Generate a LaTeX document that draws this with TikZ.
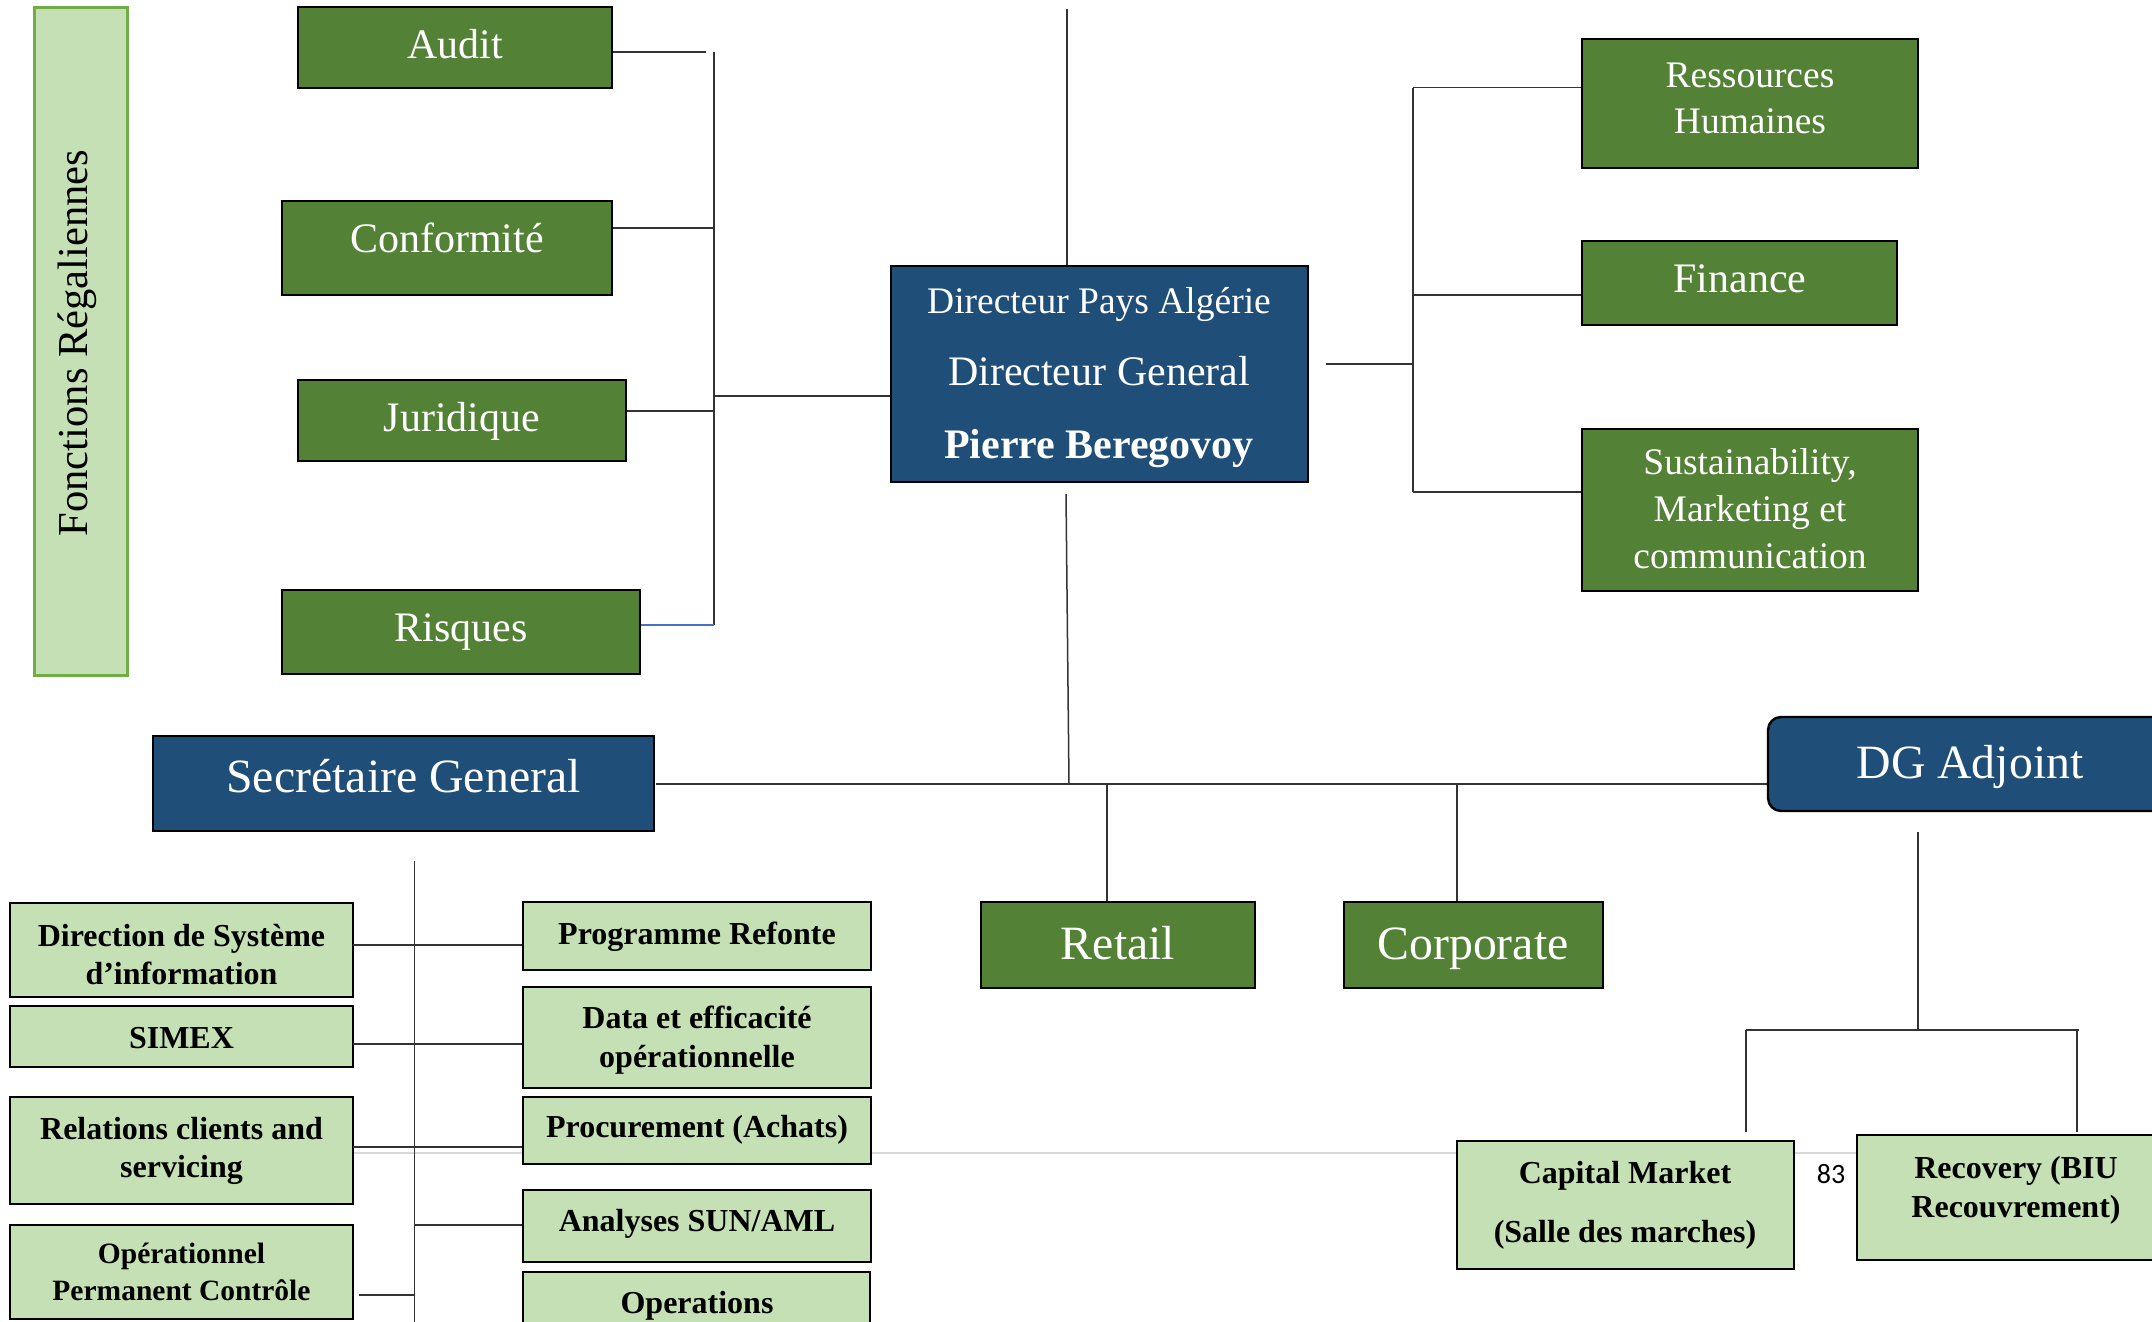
\documentclass[tikz,border=0pt]{standalone}
\usepackage{fontspec}
\setmainfont{Liberation Serif}
\newfontfamily\pagenumfont{Carlito}
\definecolor{orgGreen}{HTML}{538135}
\definecolor{orgBlue}{HTML}{1F4E79}
\definecolor{orgLight}{HTML}{C5E0B4}
\definecolor{orgBorder}{HTML}{70AD47}
\definecolor{linkBlue}{HTML}{4472C4}
\definecolor{pageRule}{HTML}{D9D9D9}
\newcommand\fsMain{\fontsize{42}{48}\selectfont}
\newcommand\fsSmall{\fontsize{37.5}{45}\selectfont}
\newcommand\fsLarge{\fontsize{47.8}{56}\selectfont}
\newcommand\fsBox{\fontsize{32}{38}\selectfont}
\newcommand\fsBoxS{\fontsize{29.5}{35}\selectfont}
\newcommand\fsPage{\fontsize{28}{32}\selectfont}
\begin{document}
\begin{tikzpicture}[x=1pt,y=-1pt,
  box/.style={rectangle, draw=black, line width=2.4pt, inner sep=0pt, anchor=center},
  greenbox/.style={box, fill=orgGreen},
  bluebox/.style={box, fill=orgBlue},
  lightbox/.style={box, fill=orgLight},
  wt/.style={anchor=base, text=white, inner sep=0pt},
  bt/.style={anchor=base, text=black, inner sep=0pt, font=\fsBox\bfseries},
  conn/.style={draw=black!80, line width=1.5pt},
]
\useasboundingbox (0,0) rectangle (2152,1322);

% page break rule behind the lower boxes
\draw[draw=pageRule, line width=2.5pt] (353,1153) -- (1857,1153);

% ---------- boxes ----------
\node[box, draw=orgBorder, line width=3pt, fill=orgLight, minimum width=93pt, minimum height=667pt] (fonctions) at (81,341.5) {};
\node[greenbox, minimum width=314pt, minimum height=81pt] (audit) at (455,47.5) {};
\node[greenbox, minimum width=330pt, minimum height=94pt] (conformite) at (447.25,248) {};
\node[greenbox, minimum width=328pt, minimum height=81pt] (juridique) at (462,420.5) {};
\node[greenbox, minimum width=358pt, minimum height=84pt] (risques) at (461,632) {};

\node[bluebox, minimum width=417pt, minimum height=216pt] (dg) at (1099.5,374) {};

\node[greenbox, minimum width=336pt, minimum height=129pt] (rh) at (1750,103.5) {};
\node[greenbox, minimum width=315pt, minimum height=84pt] (finance) at (1739.5,283) {};
\node[greenbox, minimum width=336pt, minimum height=162pt] (sustain) at (1750,510) {};

\node[bluebox, minimum width=501pt, minimum height=95pt] (sg) at (403.5,783.5) {};
\node[bluebox, rounded corners=13pt, minimum width=404pt, minimum height=94pt] (adjoint) at (1970,764) {};
\node[greenbox, minimum width=274pt, minimum height=86pt] (retail) at (1118,945) {};
\node[greenbox, minimum width=259pt, minimum height=86pt] (corporate) at (1473.5,945) {};

\node[lightbox, minimum width=337pt, minimum height=128pt] (capital) at (1625.5,1205) {};
\node[lightbox, minimum width=318pt, minimum height=125pt] (recovery) at (2016,1197.5) {};

\node[lightbox, minimum width=343pt, minimum height=94pt] (dsi) at (181.5,950) {};
\node[lightbox, minimum width=343pt, minimum height=61pt] (simex) at (181.5,1036.5) {};
\node[lightbox, minimum width=343pt, minimum height=107pt] (relations) at (181.5,1150.5) {};
\node[lightbox, minimum width=343pt, minimum height=94pt] (opc) at (181.5,1272) {};
\node[lightbox, minimum width=348pt, minimum height=68pt] (refonte) at (697,936) {};
\node[lightbox, minimum width=348pt, minimum height=101pt] (data) at (697,1037.5) {};
\node[lightbox, minimum width=348pt, minimum height=67pt] (procurement) at (697,1130.5) {};
\node[lightbox, minimum width=348pt, minimum height=72pt] (analyses) at (697,1226) {};
\node[lightbox, minimum width=347pt, minimum height=73pt] (operations) at (696.5,1308.5) {};

% ---------- labels ----------
\node[anchor=base, inner sep=0pt, rotate=90, font=\fontsize{42.6}{48}\selectfont] (fonctions-t) at (87.6,343) {Fonctions Régaliennes};
\node[wt, font=\fsMain] (audit-t) at (455,58.5) {Audit};
\node[wt, font=\fsMain] (conformite-t) at (447,252) {Conformité};
\node[wt, font=\fsMain] (juridique-t) at (462,431) {Juridique};
\node[wt, font=\fsMain] (risques-t) at (461,641) {Risques};

\node[wt, font=\fsSmall] (dg-t1) at (1099,313.5) {Directeur Pays Algérie};
\node[wt, font=\fsMain] (dg-t2) at (1099,385) {Directeur General};
\node[wt, font=\fsMain\bfseries] (dg-t3) at (1099,458.5) {Pierre Beregovoy};

\node[wt, font=\fsSmall] (rh-t1) at (1750,87) {Ressources};
\node[wt, font=\fsSmall] (rh-t2) at (1750,133.5) {Humaines};
\node[wt, font=\fsMain] (finance-t) at (1740,292) {Finance};
\node[wt, font=\fsSmall] (sustain-t1) at (1750,474.5) {Sustainability,};
\node[wt, font=\fsSmall] (sustain-t2) at (1750,521.4) {Marketing et};
\node[wt, font=\fsSmall] (sustain-t3) at (1750,568) {communication};

\node[wt, font=\fsLarge] (sg-t) at (403.5,792) {Secrétaire General};
\node[wt, font=\fsLarge] (adjoint-t) at (1970,778) {DG Adjoint};
\node[wt, font=\fsLarge] (retail-t) at (1118,959.5) {Retail};
\node[wt, font=\fsLarge] (corporate-t) at (1473,959.5) {Corporate};

\node[bt] (capital-t1) at (1625,1183) {Capital Market};
\node[bt] (capital-t2) at (1625,1242.5) {(Salle des marches)};
\node[bt] (recovery-t1) at (2016,1178) {Recovery (BIU};
\node[bt] (recovery-t2) at (2016,1217) {Recouvrement)};
\node[anchor=base, inner sep=0pt, font=\pagenumfont\fsPage] (pagenum) at (1831,1183) {83};

\node[bt] (dsi-t1) at (181.5,946) {Direction de Système};
\node[bt] (dsi-t2) at (181.5,984.6) {d’information};
\node[bt] (simex-t) at (181.5,1048) {SIMEX};
\node[bt] (relations-t1) at (181.5,1139) {Relations clients and};
\node[bt] (relations-t2) at (181.5,1177) {servicing};
\node[bt, font=\fsBoxS\bfseries] (opc-t1) at (181.5,1263.5) {Opérationnel};
\node[bt, font=\fsBoxS\bfseries] (opc-t2) at (181.5,1300.5) {Permanent Contrôle};
\node[bt] (refonte-t) at (697,944) {Programme Refonte};
\node[bt] (data-t1) at (697,1028) {Data et efficacité};
\node[bt] (data-t2) at (697,1067) {opérationnelle};
\node[bt] (procurement-t) at (697,1137) {Procurement (Achats)};
\node[bt] (analyses-t) at (697,1231.5) {Analyses SUN/AML};
\node[bt] (operations-t) at (697,1313) {Operations};

% ---------- connectors ----------
% left bus of the control functions
\coordinate (lbus-top) at (714,52);
\coordinate (lbus-bot) at (714,625);
\coordinate (audit-end) at (706,52);
\coordinate (lbus-conf) at (714,228);
\coordinate (lbus-jur) at (714,411);
\coordinate (lbus-dg) at (714,396);
\draw[conn] (lbus-top) -- (lbus-bot);
\draw[conn] (audit.east |- audit-end) -- (audit-end);
\draw[conn] (conformite.east |- lbus-conf) -- (lbus-conf);
\draw[conn] (juridique.east |- lbus-jur) -- (lbus-jur);
\draw[draw=linkBlue, line width=1.5pt] (risques.east |- lbus-bot) -- (lbus-bot);
\draw[conn] (lbus-dg) -- (dg.west |- lbus-dg);

% vertical trunk through the director
\coordinate (trunk-top) at (1067,9);
\coordinate (trunk-low) at (1066,494);
\coordinate (hub) at (1069,784);
\draw[conn] (trunk-top) -- (trunk-top |- dg.north);
\draw[conn] (trunk-low) -- (hub);

% right bus of support functions
\coordinate (rbus-in) at (1326,364);
\coordinate (rbus-mid) at (1413,364);
\coordinate (rbus-top) at (1413,87.5);
\coordinate (rbus-fin) at (1413,295);
\coordinate (rbus-bot) at (1413,492);
\draw[conn] (rbus-in) -- (rbus-mid);
\draw[conn] (rbus-top) -- (rbus-bot);
\draw[conn] (rbus-top) -- (rh.west |- rbus-top);
\draw[conn] (rbus-fin) -- (finance.west |- rbus-fin);
\draw[conn] (rbus-bot) -- (sustain.west |- rbus-bot);

% main horizontal line
\coordinate (main-l) at (656,784);
\draw[conn] (main-l) -- (main-l -| adjoint.west);
\coordinate (retail-br) at (1107,784);
\coordinate (corp-br) at (1457,784);
\draw[conn] (retail-br) -- (retail-br |- retail.north);
\draw[conn] (corp-br) -- (corp-br |- corporate.north);

% deputy branch
\coordinate (adj-down) at (1918,832);
\coordinate (adj-mid) at (1918,1030);
\coordinate (adj-l) at (1746,1030);
\coordinate (adj-r) at (2079,1030);
\coordinate (adj-l-end) at (1746,1132);
\coordinate (adj-r-top) at (2077,1030);
\coordinate (adj-r-end) at (2077,1132);
\draw[conn] (adj-down) -- (adj-mid);
\draw[conn] (adj-l) -- (adj-r);
\draw[conn] (adj-l) -- (adj-l-end);
\draw[conn] (adj-r-top) -- (adj-r-end);

% secretary general branch
\coordinate (sgbus-top) at (414.5,861);
\coordinate (sgbus-bot) at (414.5,1330);
\draw[conn] (sgbus-top) -- (sgbus-bot);
\coordinate (row1) at (353,945);
\coordinate (row2) at (353,1044);
\coordinate (row3) at (353,1147);
\coordinate (row4) at (414.5,1225);
\coordinate (row5) at (359,1295);
\draw[conn] (row1) -- (row1 -| refonte.west);
\draw[conn] (row2) -- (row2 -| data.west);
\draw[conn] (row3) -- (row3 -| procurement.west);
\draw[conn] (row4) -- (row4 -| analyses.west);
\draw[conn] (row5) -- (row5 -| sgbus-top);
\end{tikzpicture}
\end{document}
